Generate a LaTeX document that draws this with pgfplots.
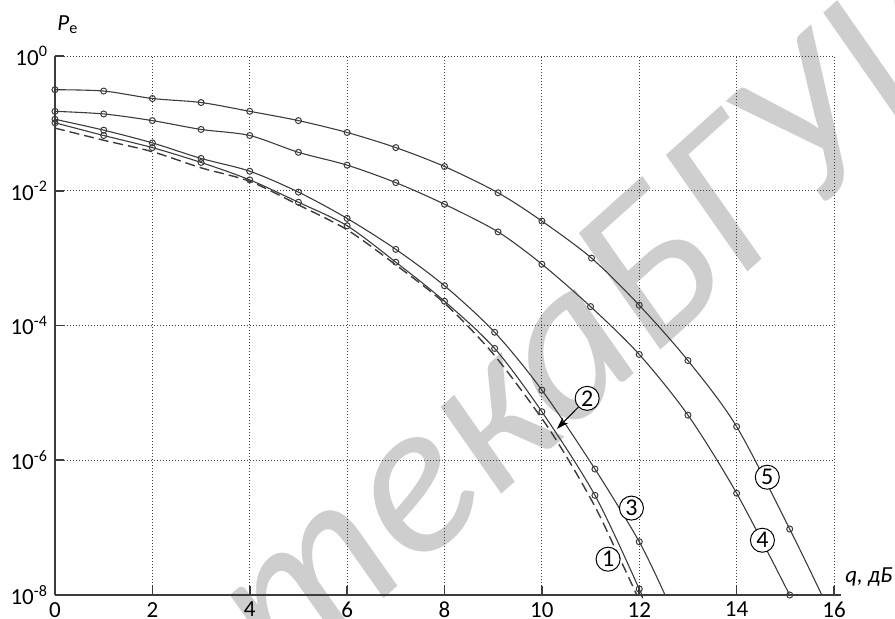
\documentclass[border=0pt]{standalone}
\usepackage{fontspec}
\setmainfont{Carlito}
\usepackage{pgfplots}
\pgfplotsset{compat=1.18}
\usetikzlibrary{arrows.meta}
\definecolor{crv}{RGB}{60,60,60}
\definecolor{wm}{RGB}{206,206,206}
\begin{document}
\begin{tikzpicture}
\path[use as bounding box] (-27.5pt,-11.5pt) rectangle (420pt,297.5pt);
% watermark
\begin{scope}
\clip (-27.5pt,-11.5pt) rectangle (420pt,297.5pt);
\node[anchor=base east, rotate=42, text=wm, inner sep=0pt, font=\fontsize{110}{120}\selectfont\itshape] at (298pt,118pt) {тека\ };
\node[anchor=base west, rotate=42, text=wm, inner sep=0pt, font=\fontsize{110}{120}\selectfont\itshape] at (298pt,118pt) {БГУИР};
\end{scope}
\begin{axis}[
  at={(0,0)}, anchor=south west,
  scale only axis, width=389.5pt, height=269.5pt,
  ymode=log, xmin=0, xmax=16, ymin=1e-8, ymax=1,
  axis x line=bottom, axis y line=left,
  axis line style={-, draw=crv, line width=0.8pt},
  x axis line style={shorten >=-3.5pt},
  xtick={0,2,...,16}, ytick={1,1e-2,1e-4,1e-6,1e-8},
  yticklabels={10\textsuperscript{0},10\textsuperscript{-2},10\textsuperscript{-4},10\textsuperscript{-6},10\textsuperscript{-8}},
  yminorticks=false, xminorticks=false,
  tick align=inside, major tick length=4.5pt,
  tick style={draw=crv, line width=0.8pt},
  xmajorgrids, ymajorgrids,
  grid style={draw=black!75, line width=0.5pt, dash pattern=on 0.5pt off 1pt},
  /pgf/number format/assume math mode=true,
  ticklabel style={font=\fontsize{11.5}{13}\selectfont},
  clip=false,
]
% curve 5
\addplot[crv, line width=0.55pt, smooth] coordinates {
(0,0.316)(1,0.302)(2,0.234)(3,0.204)(4,0.151)(5,0.110)(6,0.0733)(7,0.0437)(8,0.0229)(9.1,9.33e-3)(10,3.55e-3)(11.02,1.0e-3)(12,2.0e-4)(13,3.02e-5)(14,3.16e-6)(15.09,9.55e-8)(15.75,1e-8)};
\addplot[only marks, mark=o, mark size=1.5pt, mark options={draw=crv, fill=white, line width=0.5pt}] coordinates {
(0,0.316)(1,0.302)(2,0.234)(3,0.204)(4,0.151)(5,0.110)(6,0.0733)(7,0.0437)(8,0.0229)(9.1,9.33e-3)(10,3.55e-3)(11.02,1.0e-3)(12,2.0e-4)(13,3.02e-5)(14,3.16e-6)(15.09,9.55e-8)};
% curve 4
\addplot[crv, line width=0.55pt, smooth] coordinates {
(0,0.151)(1,0.138)(2,0.110)(3,0.0813)(4,0.0661)(5,0.0372)(6,0.0240)(7,0.0132)(8,6.31e-3)(9.1,2.45e-3)(10,8.13e-4)(11,1.91e-4)(12,3.72e-5)(13,4.68e-6)(14,3.24e-7)(15.09,1e-8)};
\addplot[only marks, mark=o, mark size=1.5pt, mark options={draw=crv, fill=white, line width=0.5pt}] coordinates {
(0,0.151)(1,0.138)(2,0.110)(3,0.0813)(4,0.0661)(5,0.0372)(6,0.0240)(7,0.0132)(8,6.31e-3)(9.1,2.45e-3)(10,8.13e-4)(11,1.91e-4)(12,3.72e-5)(13,4.68e-6)(14,3.24e-7)(15.09,1e-8)};
% curve 3
\addplot[crv, line width=0.55pt, smooth] coordinates {
(0,0.115)(1,0.0794)(2,0.0513)(3,0.0302)(4,0.0195)(5,9.55e-3)(6,3.89e-3)(7,1.35e-3)(8,3.89e-4)(9.03,7.94e-5)(10,1.10e-5)(11.09,7.41e-7)(12,6.17e-8)(12.53,1e-8)};
\addplot[only marks, mark=o, mark size=1.5pt, mark options={draw=crv, fill=white, line width=0.5pt}] coordinates {
(0,0.115)(1,0.0794)(2,0.0513)(3,0.0302)(4,0.0195)(5,9.55e-3)(6,3.89e-3)(7,1.35e-3)(8,3.89e-4)(9.03,7.94e-5)(10,1.10e-5)(11.09,7.41e-7)(12,6.17e-8)};
% curve 2
\addplot[crv, line width=0.55pt, smooth] coordinates {
(0,0.102)(1,0.0661)(2,0.0437)(3,0.0263)(4,0.0145)(5,6.76e-3)(6,3.02e-3)(7,8.71e-4)(8,2.29e-4)(9.03,4.57e-5)(10,5.25e-6)(11.09,3.02e-7)(12,1.23e-8)(12.03,1e-8)};
\addplot[only marks, mark=o, mark size=1.5pt, mark options={draw=crv, fill=white, line width=0.5pt}] coordinates {
(0,0.102)(1,0.0661)(2,0.0437)(3,0.0263)(4,0.0145)(5,6.76e-3)(6,3.02e-3)(7,8.71e-4)(8,2.29e-4)(9.03,4.57e-5)(10,5.25e-6)(11.09,3.02e-7)(12,1.23e-8)};
% curve 1 (dashed)
\addplot[crv, line width=0.7pt, smooth, dash pattern=on 5pt off 2.5pt] coordinates {
(0,0.0851)(1,0.0562)(2,0.0380)(3,0.0219)(4,0.0138)(5,6.17e-3)(6,2.63e-3)(7,7.94e-4)(8,2.14e-4)(9,3.80e-5)(10,4.17e-6)(10.55,1e-6)(11.1,2.0e-7)(11.5,5.0e-8)(11.95,1e-8)};
% labels
\begin{scope}[every node/.style={draw=black, circle, line width=0.5pt, fill=white, inner sep=0pt, minimum size=12pt, font=\fontsize{12}{13}\selectfont}]
\node (c2) at (axis cs:10.93,8.3e-6) {2};
\node at (axis cs:11.84,1.95e-7) {3};
\node at (axis cs:11.36,3.4e-8) {1};
\node at (axis cs:14.63,5.6e-7) {5};
\node at (axis cs:14.53,6.5e-8) {4};
\end{scope}
\draw[black, line width=0.5pt, -{Stealth[length=6pt,width=4pt]}] (c2.south west) -- (axis cs:10.31,2.93e-6);
\node[anchor=base west, inner sep=0pt, font=\fontsize{11.5}{13}\selectfont] at ([shift={(1pt,13pt)}]rel axis cs:0,1) {\textit{P}\textsubscript{e}};
\node[anchor=base west, inner sep=0pt, font=\fontsize{11.5}{13}\selectfont\itshape] at ([shift={(5.5pt,6.5pt)}]rel axis cs:1,0) {q, дБ};
\end{axis}
\end{tikzpicture}
\end{document}
